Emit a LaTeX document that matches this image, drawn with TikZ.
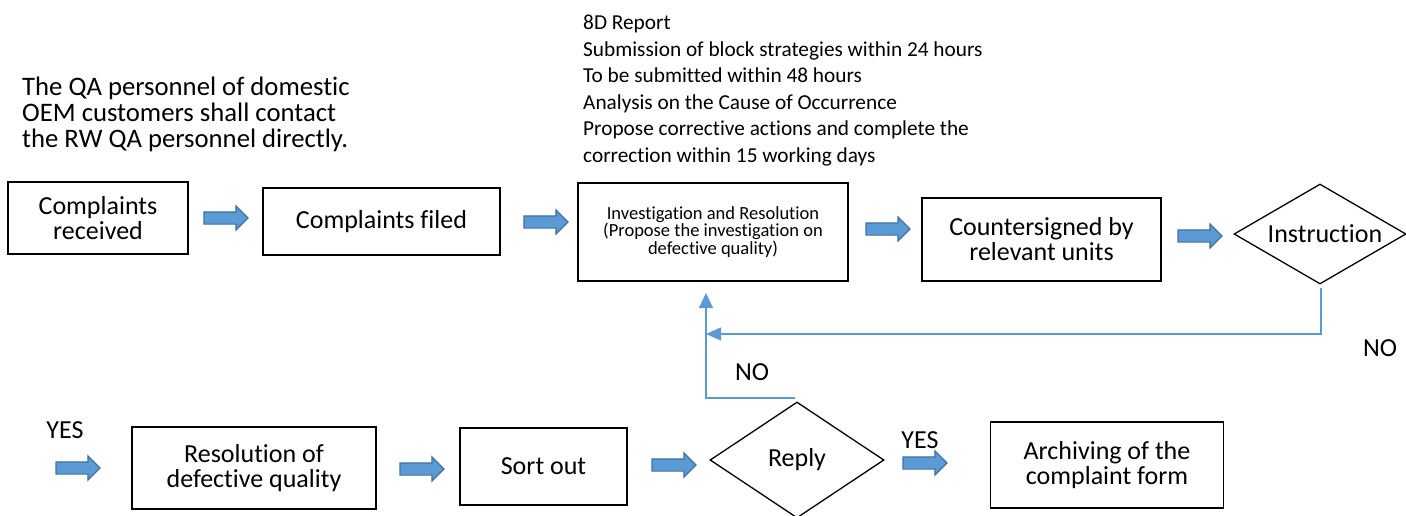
\documentclass[tikz,border=0pt]{standalone}
\usepackage{fontspec}
\setmainfont{Carlito}[Ligatures={NoCommon,NoRare}]
\usetikzlibrary{shapes.geometric,shapes.arrows,arrows.meta}
\definecolor{ablue}{HTML}{5B9BD5}
\definecolor{aedge}{HTML}{41719C}
\begin{document}
\begin{tikzpicture}[x=1pt,y=-1pt,
 box/.style={draw=black,line width=1.3pt,align=center,font=\fontsize{26}{25}\selectfont,inner sep=2pt},
 dia/.style={diamond,draw=black,line width=1.3pt,font=\fontsize{26}{25}\selectfont,inner sep=0pt},
 barrow/.style={single arrow,draw=aedge,fill=ablue,line width=1.2pt,minimum height=44pt,inner sep=5.5pt,single arrow head extend=6pt,single arrow tip angle=90},
 conn/.style={draw=ablue,line width=1.3pt},
 lbl/.style={font=\fontsize{26}{26}\selectfont,inner sep=0pt}]
\useasboundingbox (0,0) rectangle (1406,515);

% top row
\node[box,minimum width=180pt,minimum height=72pt] (recv) at (98,218) {Complaints\\received};
\node[box,minimum width=237pt,minimum height=67pt] (filed) at (381.5,221.5) {Complaints filed};
\node[box,minimum width=270pt,minimum height=98pt,font=\fontsize{18.5}{16.7}\selectfont] (inv) at (713,232) {Investigation and Resolution\\(Propose the investigation on\\defective quality)};
\node[box,minimum width=239pt,minimum height=83pt] (cs) at (1041.5,239.5) {Countersigned by\\relevant units};
\node[dia,shape aspect=1.72,minimum width=172pt,minimum height=100pt] (instr) at (1320,234) {\hspace*{10pt}Instruction};

% bottom row
\node[box,minimum width=244pt,minimum height=82pt] (resol) at (254,468) {Resolution of\\defective quality};
\node[box,minimum width=167pt,minimum height=77pt] (sort) at (543.5,466.5) {Sort out};
\node[dia,shape aspect=1.5,minimum width=174pt,minimum height=116pt] (reply) at (797,460) {Reply};
\node[box,minimum width=233pt,minimum height=86pt] (arch) at (1107,465) {Archiving of the\\complaint form};

% block arrows
\node[barrow] (a1) at (223,218) {};
\node[barrow] (a2) at (543,222) {};
\node[barrow] (a3) at (885,229) {};
\node[barrow] (a4) at (1197,236) {};
\node[barrow] (b0) at (75,468) {};
\node[barrow] (b1) at (419,469) {};
\node[barrow] (b2) at (671,465) {};
\node[barrow] (b3) at (922,463) {};

% labels
\node[lbl] (yes1) at (65,430) {YES};
\node[lbl] (yes2) at (920,440) {YES};
\node[lbl] (no1) at (752,372) {NO};
\node[lbl] (no2) at (1380,348) {NO};

% text blocks
\node[lbl,font=\fontsize{26.7}{26}\selectfont,anchor=west,align=left] (note) at (22,114.5) {The QA personnel of domestic\\OEM customers shall contact\\the RW QA personnel directly.};
\node[anchor=west,align=left,inner sep=0pt,font=\fontsize{21.3}{26.6}\selectfont] (rep) at (583,90.5) {8D Report\\Submission of block strategies within 24 hours\\To be submitted within 48 hours\\Analysis on the Cause of Occurrence\\Propose corrective actions and complete the\\correction within 15 working days};

% connectors
\coordinate (ibot) at (1321,288);
\coordinate (j) at (706,334);
\coordinate (rtop) at (795,398);
\coordinate (invb) at (706,293);
\draw[conn,-{Triangle[length=15pt,width=13pt]}] (ibot) |- (j);
\draw[conn,-{Triangle[length=15pt,width=14pt]}] (rtop) -| (invb);
\end{tikzpicture}
\end{document}
